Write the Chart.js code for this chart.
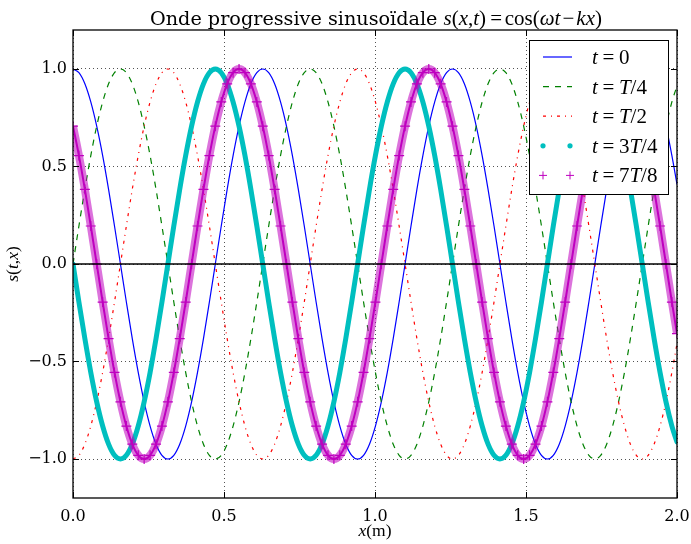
<!DOCTYPE html>
<html>
<head>
<meta charset="utf-8">
<title>Onde progressive sinusoïdale</title>
<script src="https://cdn.jsdelivr.net/npm/chart.js@4.4.1/dist/chart.umd.min.js"></script>
<style>
  html, body { margin: 0; padding: 0; background: #fff; }
  #wrap { width: 691px; height: 544px; }
</style>
</head>
<body>
<div id="wrap"><canvas id="waveChart" width="691" height="544"></canvas></div>
<script>
// positions x (m)
const xs = [
  0, 0.0196, 0.0393, 0.0589, 0.0785, 0.0982, 0.1178, 0.1374, 0.1571, 0.1767, 0.1963, 0.216, 0.2356, 0.2553, 0.2749, 0.2945,
  0.3142, 0.3338, 0.3534, 0.3731, 0.3927, 0.4123, 0.432, 0.4516, 0.4712, 0.4909, 0.5105, 0.5301, 0.5498, 0.5694, 0.589, 0.6087,
  0.6283, 0.648, 0.6676, 0.6872, 0.7069, 0.7265, 0.7461, 0.7658, 0.7854, 0.805, 0.8247, 0.8443, 0.8639, 0.8836, 0.9032, 0.9228,
  0.9425, 0.9621, 0.9817, 1.0014, 1.021, 1.0407, 1.0603, 1.0799, 1.0996, 1.1192, 1.1388, 1.1585, 1.1781, 1.1977, 1.2174, 1.237,
  1.2566, 1.2763, 1.2959, 1.3155, 1.3352, 1.3548, 1.3744, 1.3941, 1.4137, 1.4334, 1.453, 1.4726, 1.4923, 1.5119, 1.5315, 1.5512,
  1.5708, 1.5904, 1.6101, 1.6297, 1.6493, 1.669, 1.6886, 1.7082, 1.7279, 1.7475, 1.7671, 1.7868, 1.8064, 1.8261, 1.8457, 1.8653,
  1.885, 1.9046, 1.9242, 1.9439, 1.9635, 1.9831, 2
];

// t = 0
const sT0 = [
  1, 0.981, 0.924, 0.831, 0.707, 0.556, 0.383, 0.195, 0, -0.195, -0.383, -0.556, -0.707, -0.831, -0.924, -0.981,
  -1, -0.981, -0.924, -0.831, -0.707, -0.556, -0.383, -0.195, 0, 0.195, 0.383, 0.556, 0.707, 0.831, 0.924, 0.981,
  1, 0.981, 0.924, 0.831, 0.707, 0.556, 0.383, 0.195, 0, -0.195, -0.383, -0.556, -0.707, -0.831, -0.924, -0.981,
  -1, -0.981, -0.924, -0.831, -0.707, -0.556, -0.383, -0.195, 0, 0.195, 0.383, 0.556, 0.707, 0.831, 0.924, 0.981,
  1, 0.981, 0.924, 0.831, 0.707, 0.556, 0.383, 0.195, 0, -0.195, -0.383, -0.556, -0.707, -0.831, -0.924, -0.981,
  -1, -0.981, -0.924, -0.831, -0.707, -0.556, -0.383, -0.195, 0, 0.195, 0.383, 0.556, 0.707, 0.831, 0.924, 0.981,
  1, 0.981, 0.924, 0.831, 0.707, 0.556, 0.408
];

// t = T/4
const sT4 = [
  0, 0.195, 0.383, 0.556, 0.707, 0.831, 0.924, 0.981, 1, 0.981, 0.924, 0.831, 0.707, 0.556, 0.383, 0.195,
  0, -0.195, -0.383, -0.556, -0.707, -0.831, -0.924, -0.981, -1, -0.981, -0.924, -0.831, -0.707, -0.556, -0.383, -0.195,
  0, 0.195, 0.383, 0.556, 0.707, 0.831, 0.924, 0.981, 1, 0.981, 0.924, 0.831, 0.707, 0.556, 0.383, 0.195,
  0, -0.195, -0.383, -0.556, -0.707, -0.831, -0.924, -0.981, -1, -0.981, -0.924, -0.831, -0.707, -0.556, -0.383, -0.195,
  0, 0.195, 0.383, 0.556, 0.707, 0.831, 0.924, 0.981, 1, 0.981, 0.924, 0.831, 0.707, 0.556, 0.383, 0.195,
  0, -0.195, -0.383, -0.556, -0.707, -0.831, -0.924, -0.981, -1, -0.981, -0.924, -0.831, -0.707, -0.556, -0.383, -0.195,
  0, 0.195, 0.383, 0.556, 0.707, 0.831, 0.913
];

// t = T/2
const sT2 = [
  -1, -0.981, -0.924, -0.831, -0.707, -0.556, -0.383, -0.195, 0, 0.195, 0.383, 0.556, 0.707, 0.831, 0.924, 0.981,
  1, 0.981, 0.924, 0.831, 0.707, 0.556, 0.383, 0.195, 0, -0.195, -0.383, -0.556, -0.707, -0.831, -0.924, -0.981,
  -1, -0.981, -0.924, -0.831, -0.707, -0.556, -0.383, -0.195, 0, 0.195, 0.383, 0.556, 0.707, 0.831, 0.924, 0.981,
  1, 0.981, 0.924, 0.831, 0.707, 0.556, 0.383, 0.195, 0, -0.195, -0.383, -0.556, -0.707, -0.831, -0.924, -0.981,
  -1, -0.981, -0.924, -0.831, -0.707, -0.556, -0.383, -0.195, 0, 0.195, 0.383, 0.556, 0.707, 0.831, 0.924, 0.981,
  1, 0.981, 0.924, 0.831, 0.707, 0.556, 0.383, 0.195, 0, -0.195, -0.383, -0.556, -0.707, -0.831, -0.924, -0.981,
  -1, -0.981, -0.924, -0.831, -0.707, -0.556, -0.408
];

// t = 3T/4
const s3T4 = [
  0, -0.195, -0.383, -0.556, -0.707, -0.831, -0.924, -0.981, -1, -0.981, -0.924, -0.831, -0.707, -0.556, -0.383, -0.195,
  0, 0.195, 0.383, 0.556, 0.707, 0.831, 0.924, 0.981, 1, 0.981, 0.924, 0.831, 0.707, 0.556, 0.383, 0.195,
  0, -0.195, -0.383, -0.556, -0.707, -0.831, -0.924, -0.981, -1, -0.981, -0.924, -0.831, -0.707, -0.556, -0.383, -0.195,
  0, 0.195, 0.383, 0.556, 0.707, 0.831, 0.924, 0.981, 1, 0.981, 0.924, 0.831, 0.707, 0.556, 0.383, 0.195,
  0, -0.195, -0.383, -0.556, -0.707, -0.831, -0.924, -0.981, -1, -0.981, -0.924, -0.831, -0.707, -0.556, -0.383, -0.195,
  0, 0.195, 0.383, 0.556, 0.707, 0.831, 0.924, 0.981, 1, 0.981, 0.924, 0.831, 0.707, 0.556, 0.383, 0.195,
  0, -0.195, -0.383, -0.556, -0.707, -0.831, -0.913
];

// t = 7T/8
const s7T8 = [
  0.707, 0.556, 0.383, 0.195, 0, -0.195, -0.383, -0.556, -0.707, -0.831, -0.924, -0.981, -1, -0.981, -0.924, -0.831,
  -0.707, -0.556, -0.383, -0.195, 0, 0.195, 0.383, 0.556, 0.707, 0.831, 0.924, 0.981, 1, 0.981, 0.924, 0.831,
  0.707, 0.556, 0.383, 0.195, 0, -0.195, -0.383, -0.556, -0.707, -0.831, -0.924, -0.981, -1, -0.981, -0.924, -0.831,
  -0.707, -0.556, -0.383, -0.195, 0, 0.195, 0.383, 0.556, 0.707, 0.831, 0.924, 0.981, 1, 0.981, 0.924, 0.831,
  0.707, 0.556, 0.383, 0.195, 0, -0.195, -0.383, -0.556, -0.707, -0.831, -0.924, -0.981, -1, -0.981, -0.924, -0.831,
  -0.707, -0.556, -0.383, -0.195, 0, 0.195, 0.383, 0.556, 0.707, 0.831, 0.924, 0.981, 1, 0.981, 0.924, 0.831,
  0.707, 0.556, 0.383, 0.195, 0, -0.195, -0.357
];

// horizontal axis line s = 0
const zeroX = [0, 2];
const zeroY = [0, 0];

const xTicks = [0, 0.5, 1, 1.5, 2];
const yTicks = [-1, -0.5, 0, 0.5, 1];

const SERIF = '"DejaVu Serif", serif';
const MATH = '"Liberation Serif", "Times New Roman", serif';

// rich text pieces: t = text, i = italic, f = font family, s = size factor, gap = space in em
const titleParts = [
  { t: 'Onde progressive sinusoïdale ', f: SERIF, s: 0.915 },
  { t: 's', i: 1 }, { t: '(' }, { t: 'x', i: 1 }, { t: ',' }, { t: 't', i: 1 }, { t: ')' },
  { gap: 0.2 }, { t: '=' }, { gap: 0.12 },
  { t: 'cos(' }, { t: 'ωt', i: 1 }, { gap: 0.1 }, { t: '−' }, { gap: 0.1 }, { t: 'kx', i: 1 }, { t: ')' }
];
const eq = [{ t: 't', i: 1 }, { gap: 0.22 }, { t: '=' }, { gap: 0.22 }];
const legendItems = [
  { parts: eq.concat([{ t: '0' }]), color: '#0000ff', kind: 'line', dash: [] },
  { parts: eq.concat([{ t: 'T', i: 1 }, { t: '/4' }]), color: '#008000', kind: 'line', dash: [6, 6] },
  { parts: eq.concat([{ t: 'T', i: 1 }, { t: '/2' }]), color: '#ff0000', kind: 'line', dash: [3, 5, 1, 5] },
  { parts: eq.concat([{ t: '3' }, { t: 'T', i: 1 }, { t: '/4' }]), color: '#00bfbf', kind: 'dot' },
  { parts: eq.concat([{ t: '7' }, { t: 'T', i: 1 }, { t: '/8' }]), color: '#bf00bf', kind: 'plus' }
];
const yLabelParts = [{ t: 's', i: 1 }, { t: '(' }, { t: 't', i: 1 }, { t: ',' }, { t: 'x', i: 1 }, { t: ')' }];
const xLabelParts = [{ t: 'x', i: 1 }, { t: '(m)' }];

function fontOf(p, size) {
  return (p.i ? 'italic ' : '') + (size * (p.s || 1)) + 'px ' + (p.f || MATH);
}

function drawParts(ctx, parts, x, y, size, align) {
  let w = 0;
  parts.forEach(function (p) {
    if (p.gap) { w += p.gap * size; return; }
    ctx.font = fontOf(p, size);
    w += ctx.measureText(p.t).width;
  });
  let cx = align === 'center' ? x - w / 2 : x;
  ctx.textAlign = 'left';
  ctx.textBaseline = 'alphabetic';
  parts.forEach(function (p) {
    if (p.gap) { cx += p.gap * size; return; }
    ctx.font = fontOf(p, size);
    ctx.fillText(p.t, cx, y);
    cx += ctx.measureText(p.t).width;
  });
}

function fmt(v) {
  return (v < 0 ? '\u2212' : '') + Math.abs(v).toFixed(1);
}

function pts(data, xv) {
  return (xv || xs).map(function (x, i) { return { x: x, y: data[i] }; });
}

// frame with inward ticks, drawn over the curves
const framePlugin = {
  id: 'frame',
  afterDatasetsDraw(chart) {
    const ctx = chart.ctx;
    const a = chart.chartArea;
    const sx = chart.scales.x, sy = chart.scales.y;
    ctx.save();
    ctx.strokeStyle = '#000';
    ctx.lineWidth = 1;
    ctx.setLineDash([]);
    ctx.beginPath();
    xTicks.forEach(function (v) {
      const px = Math.round(sx.getPixelForValue(v)) + 0.5;
      ctx.moveTo(px, a.bottom); ctx.lineTo(px, a.bottom - 6);
      ctx.moveTo(px, a.top); ctx.lineTo(px, a.top + 6);
    });
    yTicks.forEach(function (v) {
      const py = Math.round(sy.getPixelForValue(v)) + 0.5;
      ctx.moveTo(a.left, py); ctx.lineTo(a.left + 6, py);
      ctx.moveTo(a.right, py); ctx.lineTo(a.right - 6, py);
    });
    ctx.stroke();
    ctx.lineWidth = 1.3;
    ctx.strokeRect(a.left, a.top, a.right - a.left, a.bottom - a.top);
    ctx.restore();
  }
};

// title, axis labels and legend box (matplotlib look)
const textPlugin = {
  id: 'texts',
  afterDraw(chart) {
    const ctx = chart.ctx;
    const a = chart.chartArea;
    const mid = (a.left + a.right) / 2;
    ctx.save();
    ctx.fillStyle = '#000';
    drawParts(ctx, titleParts, mid + 1, 25, 21, 'center');
    drawParts(ctx, xLabelParts, mid, 536, 17.5, 'center');
    ctx.save();
    ctx.translate(18, (a.top + a.bottom) / 2);
    ctx.rotate(-Math.PI / 2);
    drawParts(ctx, yLabelParts, 0, 0, 17.5, 'center');
    ctx.restore();

    // legend
    const bx = 529.5, by = 40.5, bw = 139, bh = 154;
    ctx.fillStyle = '#fff';
    ctx.fillRect(bx, by, bw, bh);
    ctx.strokeStyle = '#000';
    ctx.lineWidth = 1;
    ctx.strokeRect(bx, by, bw, bh);
    legendItems.forEach(function (it, i) {
      const y = 57 + i * 29.6;
      ctx.strokeStyle = it.color;
      ctx.fillStyle = it.color;
      if (it.kind === 'line') {
        ctx.lineWidth = 1.2;
        ctx.setLineDash(it.dash);
        ctx.beginPath();
        ctx.moveTo(543, y); ctx.lineTo(572, y);
        ctx.stroke();
        ctx.setLineDash([]);
      } else if (it.kind === 'dot') {
        [543, 570].forEach(function (px) {
          ctx.beginPath(); ctx.arc(px, y, 2.6, 0, Math.PI * 2); ctx.fill();
        });
      } else {
        ctx.lineWidth = 1;
        [543, 570].forEach(function (px) {
          ctx.beginPath();
          ctx.moveTo(px - 4, y); ctx.lineTo(px + 4, y);
          ctx.moveTo(px, y - 4); ctx.lineTo(px, y + 4);
          ctx.stroke();
        });
      }
      ctx.fillStyle = '#000';
      drawParts(ctx, it.parts, 592, y + 7, 21, 'left');
    });
    ctx.restore();
  }
};

const baseLine = {
  pointRadius: 0,
  fill: false,
  clip: 0,
  cubicInterpolationMode: 'monotone',
  borderWidth: 1.2
};

const ctx = document.getElementById('waveChart').getContext('2d');
new Chart(ctx, {
  type: 'line',
  data: {
    datasets: [
      Object.assign({}, baseLine, { label: 't=0', data: pts(sT0), borderColor: '#0000ff', order: 7 }),
      Object.assign({}, baseLine, { label: 't=T/4', data: pts(sT4), borderColor: '#008000', borderDash: [6, 6], order: 6 }),
      Object.assign({}, baseLine, { label: 't=T/2', data: pts(sT2), borderColor: '#ff0000', borderDash: [3, 5, 1, 5], order: 5 }),
      Object.assign({}, baseLine, { label: 't=3T/4', data: pts(s3T4), borderColor: '#00bfbf', borderWidth: 5,
        borderJoinStyle: 'round', borderCapStyle: 'round', order: 4 }),
      Object.assign({}, baseLine, { label: 't=7T/8 (band)', data: pts(s7T8), borderColor: 'rgba(191,0,191,0.55)', borderWidth: 8, order: 3 }),
      Object.assign({}, baseLine, { label: 't=7T/8', data: pts(s7T8), borderColor: '#bf00bf', borderWidth: 2,
        pointStyle: 'cross', pointRadius: 5, pointBorderWidth: 1.2, pointBorderColor: '#bf00bf', order: 2 }),
      Object.assign({}, baseLine, { label: 'axe', data: pts(zeroY, zeroX), borderColor: '#000', borderWidth: 1.5, order: 1 })
    ]
  },
  options: {
    responsive: false,
    animation: false,
    devicePixelRatio: 1,
    events: [],
    layout: { padding: { top: 30, right: 14, left: 0, bottom: 0 } },
    plugins: {
      legend: { display: false },
      tooltip: { enabled: false },
      title: { display: false }
    },
    scales: {
      x: {
        type: 'linear',
        min: 0,
        max: 2,
        afterBuildTicks: function (axis) { axis.ticks = xTicks.map(function (v) { return { value: v }; }); },
        afterFit: function (axis) { axis.height = 46; axis.paddingLeft = 0; axis.paddingRight = 0; },
        grid: { color: 'rgba(0,0,0,0.85)', lineWidth: 0.8, drawTicks: false },
        border: { display: false, dash: [1, 3] },
        ticks: { padding: 9, color: '#000', maxRotation: 0, font: { family: 'DejaVu Serif', size: 16 }, callback: fmt }
      },
      y: {
        type: 'linear',
        min: -1.2,
        max: 1.2,
        afterBuildTicks: function (axis) { axis.ticks = yTicks.map(function (v) { return { value: v }; }); },
        afterFit: function (axis) { axis.width = 73; axis.paddingTop = 0; axis.paddingBottom = 0; },
        grid: { color: 'rgba(0,0,0,0.85)', lineWidth: 0.8, drawTicks: false },
        border: { display: false, dash: [1, 3] },
        ticks: { padding: 6, color: '#000', font: { family: 'DejaVu Serif', size: 16 }, callback: fmt }
      }
    }
  },
  plugins: [framePlugin, textPlugin]
});
</script>
</body>
</html>
